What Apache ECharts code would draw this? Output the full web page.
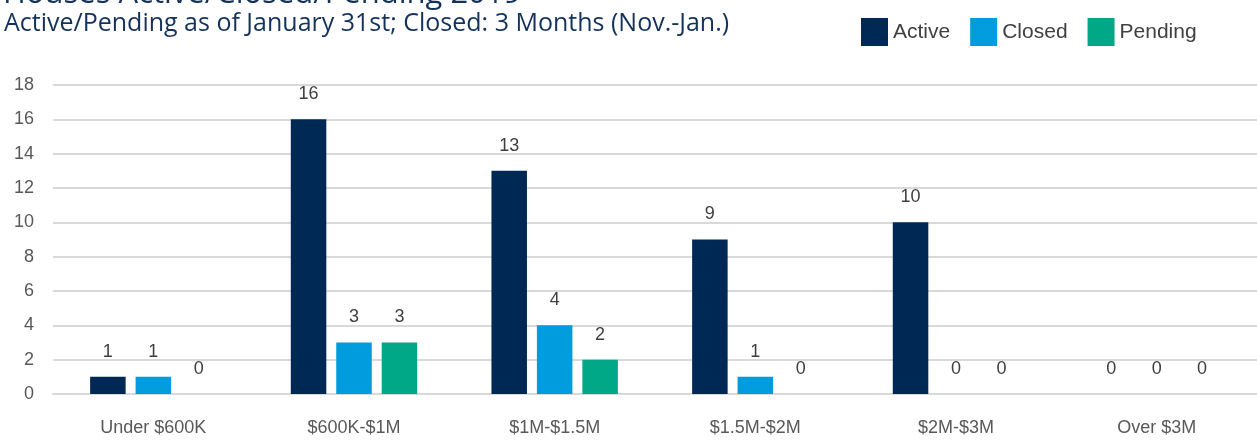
<!DOCTYPE html>
<html>
<head>
<meta charset="utf-8">
<script src="https://cdn.jsdelivr.net/npm/echarts@6/dist/echarts.min.js"></script>
<style>
  html, body { margin: 0; padding: 0; background: #fff; }
  #chart { width: 1257px; height: 441px; }
</style>
</head>
<body>
<div id="chart"></div>
<script>
// price ranges
var categories = ['Under $600K', '$600K-$1M', '$1M-$1.5M', '$1.5M-$2M', '$2M-$3M', 'Over $3M'];
var activeData = [1, 16, 13, 9, 10, 0];
var closedData = [1, 3, 4, 1, 0, 0];
var pendingData = [0, 3, 2, 0, 0, 0];

var axisFont = 'Liberation Sans';
var labelStyle = {
  show: true,
  position: 'top',
  distance: 16,
  color: '#404040',
  fontSize: 18,
  fontFamily: axisFont
};

function barSeries(name, data, color) {
  return {
    name: name,
    type: 'bar',
    barGap: '28%',
    barCategoryGap: '37%',
    itemStyle: { color: color },
    label: labelStyle,
    data: data
  };
}

var chart = echarts.init(document.getElementById('chart'));
chart.setOption({
  animation: false,
  title: [{
    text: 'Houses Active/Closed/Pending 2019',
    left: -2,
    top: -26,
    textStyle: { color: '#14335C', fontSize: 31, fontWeight: 'normal', fontFamily: 'Open Sans' }
  }, {
    text: 'Active/Pending as of January 31st; Closed: 3 Months (Nov.-Jan.)',
    left: -1,
    top: 6,
    textStyle: { color: '#14335C', fontSize: 25, fontWeight: 'normal', fontFamily: 'Open Sans' }
  }],
  legend: {
    left: 856,
    top: 13,
    icon: 'rect',
    itemWidth: 27,
    itemHeight: 28,
    itemGap: 20,
    textStyle: { color: '#404040', fontSize: 21, fontFamily: axisFont, padding: [16, 0, 0, 0] },
    data: ['Active', 'Closed', 'Pending']
  },
  grid: { left: 53, right: 0, top: 85, bottom: 47, containLabel: false },
  xAxis: {
    type: 'category',
    data: categories,
    axisLine: { lineStyle: { color: '#D9D9D9', width: 2 } },
    axisTick: { show: false },
    axisLabel: { color: '#595959', fontSize: 18, fontFamily: axisFont, margin: 25 }
  },
  yAxis: {
    type: 'value',
    min: 0,
    max: 18,
    interval: 2,
    axisLine: { show: false },
    axisTick: { show: false },
    splitLine: { lineStyle: { color: '#D9D9D9', width: 2 } },
    axisLabel: { color: '#595959', fontSize: 18, fontFamily: axisFont, margin: 19 }
  },
  series: [
    barSeries('Active', activeData, '#002855'),
    barSeries('Closed', closedData, '#009CDE'),
    barSeries('Pending', pendingData, '#00A887')
  ]
});
</script>
</body>
</html>
